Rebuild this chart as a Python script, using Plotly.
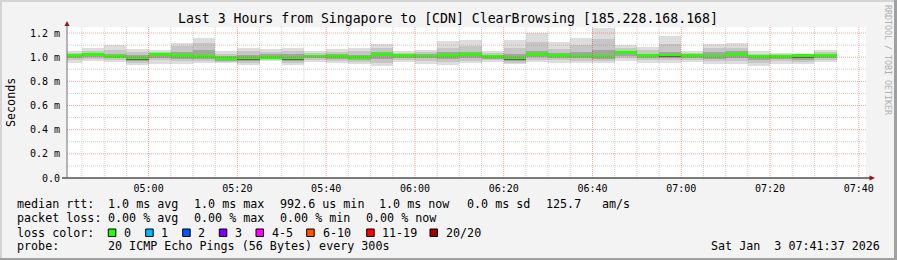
import plotly.graph_objects as go

# ---------------- data ----------------
seg_end = ["04:45", "04:50", "04:55", "05:00", "05:05", "05:10", "05:15", "05:20", "05:25",
           "05:30", "05:35", "05:40", "05:45", "05:50", "05:55", "06:00", "06:05", "06:10",
           "06:15", "06:20", "06:25", "06:30", "06:35", "06:40", "06:45", "06:50", "06:55",
           "07:00", "07:05", "07:10", "07:15", "07:20", "07:25", "07:30", "07:35"]

# RTT in ms, per 5-minute step (20 pings each)
rtt_max = [1.049, 1.076, 1.103, 1.065, 1.057, 1.120, 1.161, 1.051, 1.076, 1.070, 1.076, 1.051,
           1.065, 1.076, 1.109, 1.049, 1.057, 1.134, 1.142, 1.054, 1.142, 1.203, 1.123, 1.161,
           1.244, 1.101, 1.087, 1.178, 1.049, 1.107, 1.118, 1.049, 1.037, 1.024, 1.062]
rtt_p90 = [1.035, 1.055, 1.060, 1.040, 1.045, 1.090, 1.120, 1.030, 1.050, 1.045, 1.050, 1.035,
           1.045, 1.050, 1.080, 1.035, 1.040, 1.080, 1.090, 1.035, 1.080, 1.130, 1.070, 1.100,
           1.150, 1.075, 1.060, 1.110, 1.035, 1.075, 1.080, 1.030, 1.025, 1.020, 1.040]
rtt_p75 = [1.025, 1.035, 1.030, 1.015, 1.035, 1.040, 1.060, 1.010, 1.020, 1.025, 1.025, 1.020,
           1.025, 1.020, 1.045, 1.022, 1.024, 1.040, 1.045, 1.018, 1.030, 1.050, 1.035, 1.045,
           1.060, 1.055, 1.030, 1.045, 1.022, 1.045, 1.050, 1.015, 1.015, 1.016, 1.025]
rtt_p60 = [1.016, 1.026, 1.015, 1.000, 1.028, 1.020, 1.020, 0.995, 1.000, 1.005, 1.000, 1.014,
           1.012, 1.002, 1.028, 1.016, 1.015, 1.018, 1.028, 1.008, 1.000, 1.028, 1.018, 1.016,
           1.018, 1.042, 1.017, 1.024, 1.016, 1.018, 1.030, 1.010, 1.010, 1.014, 1.016]
rtt_med = [1.012, 1.021, 1.008, 0.993, 1.024, 1.012, 1.004, 0.988, 0.993, 0.999, 0.993, 1.010,
           1.008, 0.996, 1.021, 1.012, 1.010, 1.012, 1.021, 1.004, 0.993, 1.021, 1.012, 1.010,
           1.010, 1.037, 1.012, 1.018, 1.012, 1.010, 1.024, 1.007, 1.007, 1.012, 1.012]
rtt_p40 = [1.005, 1.012, 1.000, 0.985, 1.010, 1.000, 0.995, 0.980, 0.985, 0.992, 0.985, 1.003,
           1.000, 0.988, 1.008, 1.005, 1.002, 1.003, 1.010, 0.997, 0.985, 1.012, 1.004, 1.002,
           1.000, 1.025, 1.004, 1.008, 1.003, 1.000, 1.010, 0.995, 0.998, 0.995, 1.004]
rtt_p25 = [0.995, 1.000, 0.990, 0.972, 0.995, 0.985, 0.985, 0.972, 0.972, 0.983, 0.970, 0.992,
           0.988, 0.975, 0.985, 0.995, 0.990, 0.988, 0.995, 0.988, 0.972, 0.998, 0.993, 0.990,
           0.985, 1.010, 0.992, 0.995, 0.990, 0.985, 0.995, 0.978, 0.985, 0.978, 0.993]
rtt_p10 = [0.975, 0.985, 0.978, 0.955, 0.975, 0.965, 0.970, 0.962, 0.955, 0.975, 0.955, 0.975,
           0.970, 0.960, 0.955, 0.978, 0.970, 0.962, 0.970, 0.975, 0.955, 0.980, 0.975, 0.972,
           0.965, 0.990, 0.975, 0.975, 0.975, 0.965, 0.970, 0.955, 0.965, 0.960, 0.977]
rtt_min = [0.954, 0.966, 0.960, 0.937, 0.946, 0.946, 0.954, 0.954, 0.937, 0.966, 0.937, 0.960,
           0.954, 0.946, 0.927, 0.960, 0.946, 0.937, 0.950, 0.963, 0.940, 0.963, 0.955, 0.952,
           0.949, 0.966, 0.955, 0.955, 0.960, 0.946, 0.946, 0.927, 0.946, 0.946, 0.960]

y_ticks = [0.0, 0.2, 0.4, 0.6, 0.8, 1.0, 1.2]
y_labels = ["0.0", "0.2 m", "0.4 m", "0.6 m", "0.8 m", "1.0 m", "1.2 m"]
y_minor = [0.1, 0.3, 0.5, 0.7, 0.9, 1.1]
x_ticks = ["05:00", "05:20", "05:40", "06:00", "06:20", "06:40", "07:00", "07:20", "07:40"]
x_minor = ["04:45", "04:50", "04:55", "05:05", "05:10", "05:15", "05:25", "05:30", "05:35",
           "05:45", "05:50", "05:55", "06:05", "06:10", "06:15", "06:25", "06:30", "06:35",
           "06:45", "06:50", "06:55", "07:05", "07:10", "07:15", "07:25", "07:30", "07:35"]

loss_labels = ["0", "1", "2", "3", "4-5", "6-10", "11-19", "20/20"]
loss_colors = ["#26ff00", "#00b8ff", "#0059ff", "#7e00ff", "#ff00ff", "#ff5500", "#ff0000", "#a10000"]

DAY = "2026-01-03 "
xs = [DAY + t for t in seg_end]
STEP_MS = 300000

# ---------------- geometry ----------------
W, H = 897, 260
PL, PR, PT, PB = 67, 866, 27, 178
def px(x):
    return (x - PL) / (PR - PL)
def py(y):
    return (PB - y) / (PB - PT)

MONO = "DejaVu Sans Mono"
fig = go.Figure()

bands = [
    (rtt_min, rtt_max, "#dddddd"),
    (rtt_p10, rtt_p90, "#c6c6c6"),
    (rtt_p25, rtt_p75, "#a4a4a4"),
    (rtt_p40, rtt_p60, "#606060"),
]
for lo, hi, col in bands:
    fig.add_trace(go.Bar(
        x=xs, base=lo, y=[h - l for l, h in zip(lo, hi)],
        width=STEP_MS, offset=-STEP_MS,
        marker=dict(color=col, line=dict(width=0)),
        hoverinfo="skip", showlegend=False))

half = 0.0105
fig.add_trace(go.Bar(
    x=xs, base=[m - half for m in rtt_med], y=[2 * half] * len(rtt_med),
    width=STEP_MS, offset=-STEP_MS,
    marker=dict(color=loss_colors[0], line=dict(width=0)),
    hoverinfo="skip", showlegend=False))

shapes = []
# grid drawn above the smoke (as rrdtool does)
MAJ = "rgba(255,0,0,0.37)"
MIN = "rgba(128,128,128,0.37)"
DASH = "1px,1px"
for t in x_minor:
    shapes.append(dict(type="line", xref="x", yref="paper", x0=DAY + t, x1=DAY + t, y0=0, y1=1,
                       line=dict(color=MIN, width=1, dash=DASH), layer="above"))
for t in x_ticks:
    shapes.append(dict(type="line", xref="x", yref="paper", x0=DAY + t, x1=DAY + t, y0=0, y1=1,
                       line=dict(color=MAJ, width=1, dash=DASH), layer="above"))
for v in y_minor:
    shapes.append(dict(type="line", xref="paper", yref="y", x0=0, x1=1, y0=v, y1=v,
                       line=dict(color=MIN, width=1, dash=DASH), layer="above"))
for v in y_ticks[1:]:
    shapes.append(dict(type="line", xref="paper", yref="y", x0=0, x1=1, y0=v, y1=v,
                       line=dict(color=MAJ, width=1, dash=DASH), layer="above"))

# axes lines
shapes.append(dict(type="line", xref="paper", yref="paper", x0=px(62), x1=px(870),
                   y0=0, y1=0, line=dict(color="#000000", width=1)))
shapes.append(dict(type="line", xref="paper", yref="paper", x0=0, x1=0,
                   y0=0, y1=py(24), line=dict(color="#707070", width=1)))
# arrows
shapes.append(dict(type="path", xref="paper", yref="paper",
                   path=f"M {px(67)} {py(21)} L {px(64.5)} {py(26)} L {px(69.5)} {py(26)} Z",
                   fillcolor="#991111", line=dict(width=0)))
shapes.append(dict(type="path", xref="paper", yref="paper",
                   path=f"M {px(875)} {py(178)} L {px(869.5)} {py(175.5)} L {px(869.5)} {py(180.5)} Z",
                   fillcolor="#991111", line=dict(width=0)))
# frame border
shapes.append(dict(type="rect", xref="paper", yref="paper", x0=px(0), x1=px(897), y0=py(258), y1=py(260),
                   fillcolor="#a0a0a0", line=dict(width=0), layer="below"))
shapes.append(dict(type="rect", xref="paper", yref="paper", x0=px(894), x1=px(897), y0=py(0), y1=py(260),
                   fillcolor="#a0a0a0", line=dict(width=0), layer="below"))
shapes.append(dict(type="rect", xref="paper", yref="paper", x0=px(0), x1=px(894), y0=py(0), y1=py(2),
                   fillcolor="#d4d4d4", line=dict(width=0), layer="below"))
shapes.append(dict(type="rect", xref="paper", yref="paper", x0=px(0), x1=px(2), y0=py(0), y1=py(258),
                   fillcolor="#d4d4d4", line=dict(width=0), layer="below"))

ann = []
def text(x, y, s, size=11.7, anchor="left", color="#000000", angle=0):
    ann.append(dict(x=px(x), y=py(y), xref="paper", yref="paper", text=s.replace(" ", "\u00a0"),
                    showarrow=False, xanchor=anchor, yanchor="middle", borderpad=0,
                    textangle=angle, font=dict(family=MONO, size=size, color=color)))

text(448, 19, "Last 3 Hours from Singapore to [CDN] ClearBrowsing [185.228.168.168]", size=13.2, anchor="center")
text(11, 103, "Seconds", anchor="center", angle=-90)
text(888, 60, "RRDTOOL / TOBI OETIKER", size=8.3, anchor="center", color="#b0b0b0", angle=90)

L1, L2, L3, L4 = 204, 218.3, 232.5, 246
text(16, L1, "median rtt:")
text(107.3, L1, "1.0 ms avg")
text(193.3, L1, "1.0 ms max")
text(279.3, L1, "992.6 us min")
text(377.5, L1, "1.0 ms now")
text(465.7, L1, "0.0 ms sd")
text(545, L1, "125.7")
text(600.7, L1, "am/s")

text(16, L2, "packet loss:")
text(107.3, L2, "0.00 % avg")
text(193.3, L2, "0.00 % max")
text(279.3, L2, "0.00 % min")
text(365.3, L2, "0.00 % now")

text(16, L3, "loss color:")
box_x = [108.3, 145.7, 182.7, 219.3, 256, 306.7, 366.7, 430]
lab_x = [123.3, 160, 196.7, 234.3, 270.7, 321.7, 381, 445]
for bx, lx, lab, col in zip(box_x, lab_x, loss_labels, loss_colors):
    shapes.append(dict(type="rect", xref="paper", yref="paper", x0=px(bx), x1=px(bx + 7.5),
                       y0=py(236.5), y1=py(229), fillcolor=col, line=dict(color="#000000", width=1)))
    text(lx, L3, lab)

text(16, L4, "probe:")
text(107.3, L4, "20 ICMP Echo Pings (56 Bytes) every 300s")
text(881, L4, "Sat Jan  3 07:41:37 2026", anchor="right")

fig.update_layout(
    width=W, height=H,
    margin=dict(l=PL, r=W - PR, t=PT, b=H - PB, pad=0),
    paper_bgcolor="#f3f3f3", plot_bgcolor="#ffffff",
    barmode="overlay", bargap=0,
    showlegend=False,
    shapes=shapes, annotations=ann,
    font=dict(family=MONO, size=10, color="#000000"),
    xaxis=dict(
        type="date",
        range=[DAY + "04:41:37", DAY + "07:41:37"],
        tickmode="array", tickvals=[DAY + t for t in x_ticks], ticktext=x_ticks,
        ticks="", showline=False, zeroline=False, showgrid=False,
        tickfont=dict(family=MONO, size=10, color="#000000"),
        ticklabelstandoff=3, fixedrange=True,
    ),
    yaxis=dict(
        range=[0, 1.25],
        tickmode="array", tickvals=y_ticks, ticktext=y_labels,
        ticks="", showline=False, zeroline=False, showgrid=False,
        tickfont=dict(family=MONO, size=10, color="#000000"),
        ticklabelstandoff=6, fixedrange=True,
    ),
)

fig.write_html("out.html", config=dict(displayModeBar=False))
